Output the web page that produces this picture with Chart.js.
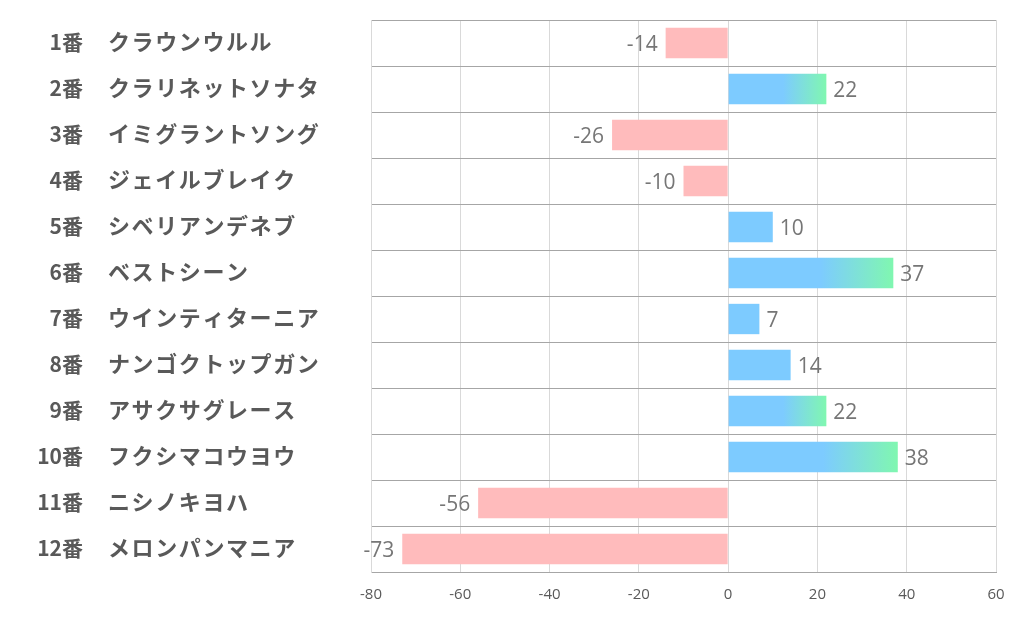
<!DOCTYPE html>
<html>
<head>
<meta charset="utf-8">
<script src="https://cdn.jsdelivr.net/npm/chart.js@4/dist/chart.umd.min.js"></script>
<style>
html,body{margin:0;padding:0;background:#fff;}
#wrap{width:1022px;height:626px;}
</style>
</head>
<body>
<div id="wrap"><canvas id="c" width="1022" height="626"></canvas></div>
<script>
const categories = ['1番','2番','3番','4番','5番','6番','7番','8番','9番','10番','11番','12番'];
const horseNames = ['クラウンウルル','クラリネットソナタ','イミグラントソング','ジェイルブレイク','シベリアンデネブ','ベストシーン','ウインティターニア','ナンゴクトップガン','アサクサグレース','フクシマコウヨウ','ニシノキヨハ','メロンパンマニア'];
const values = [-14, 22, -26, -10, 10, 37, 7, 14, 22, 38, -56, -73];
const axisMin = -80, axisMax = 60, axisStep = 20;

const BLUE = 'rgb(125,203,255)';
const GREEN = 'rgb(128,247,176)';
const PINK = 'rgb(255,187,188)';

const labelPlugin = {
  id: 'labelPlugin',
  afterDatasetsDraw(chart) {
    const ctx = chart.ctx;
    const y = chart.scales.y;
    ctx.save();
    ctx.textBaseline = 'middle';
    // category labels
    ctx.fillStyle = '#595959';
    categories.forEach((c, i) => {
      const py = y.getPixelForValue(i) - 1;
      ctx.font = 'bold 21px "Noto Sans CJK JP", "Noto Sans", sans-serif';
      ctx.letterSpacing = '0px';
      ctx.textAlign = 'right';
      ctx.fillText(c, 83, py);
      ctx.font = 'bold 22px "Noto Sans CJK JP", "Noto Sans", sans-serif';
      ctx.letterSpacing = '1.6px';
      ctx.textAlign = 'left';
      ctx.fillText(horseNames[i], 108, py);
    });
    ctx.letterSpacing = '0px';
    // data labels
    const meta = chart.getDatasetMeta(0);
    ctx.font = '21px "Open Sans", "Noto Sans", sans-serif';
    ctx.fillStyle = '#767676';
    meta.data.forEach((bar, i) => {
      const v = values[i];
      if (v >= 0) {
        ctx.textAlign = 'left';
        ctx.fillText(String(v), bar.x + 7, bar.y + 2);
      } else {
        ctx.textAlign = 'right';
        ctx.fillText(String(v), bar.x - 8, bar.y + 2);
      }
    });
    ctx.restore();
  }
};

new Chart(document.getElementById('c'), {
  type: 'bar',
  data: {
    labels: categories,
    datasets: [{
      data: values,
      backgroundColor: (ctx) => {
        const v = ctx.raw;
        if (v < 0) return PINK;
        if (v < 20) return BLUE;
        const chart = ctx.chart;
        if (!chart.chartArea) return BLUE;
        const xs = chart.scales.x;
        const x0 = xs.getPixelForValue(0), x1 = xs.getPixelForValue(v);
        const g = chart.ctx.createLinearGradient(x0, 0, x1, 0);
        g.addColorStop(0, BLUE);
        g.addColorStop(0.56, BLUE);
        g.addColorStop(1, GREEN);
        return g;
      },
      borderWidth: 0,
      barPercentage: 0.66,
      categoryPercentage: 1.0
    }]
  },
  options: {
    indexAxis: 'y',
    responsive: false,
    animation: false,
    devicePixelRatio: 1,
    layout: { padding: { top: 20, right: 26, left: 0, bottom: 0 } },
    plugins: { legend: { display: false }, tooltip: { enabled: false } },
    scales: {
      x: {
        min: axisMin, max: axisMax,
        ticks: { stepSize: axisStep, color: '#595959', font: { size: 15, family: '"Open Sans", "Noto Sans", sans-serif' }, padding: 14 },
        grid: { color: '#d9d9d9', drawTicks: false },
        border: { color: '#a6a6a6' },
        afterFit: (s) => { s.height = 54; }
      },
      y: {
        ticks: { display: false },
        grid: { color: '#a6a6a6', offset: true, drawTicks: false },
        border: { color: '#d9d9d9' },
        afterFit: (s) => { s.width = 371; }
      }
    }
  },
  plugins: [labelPlugin]
});
</script>
</body>
</html>
